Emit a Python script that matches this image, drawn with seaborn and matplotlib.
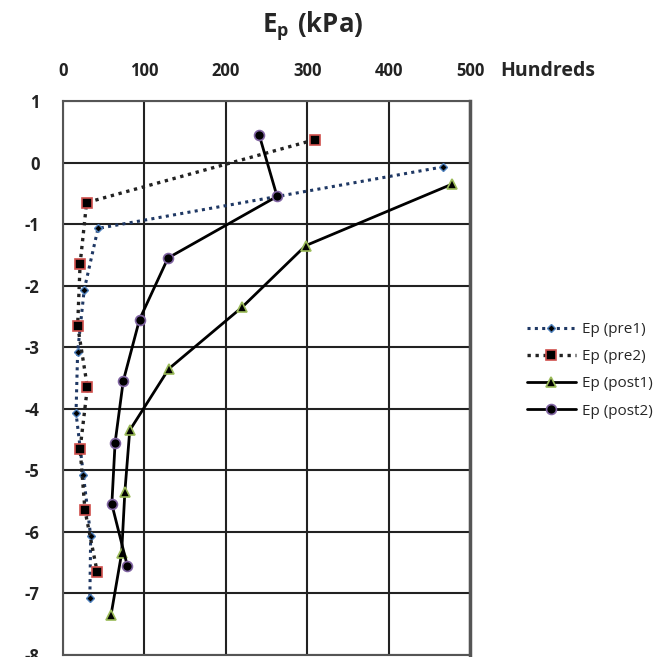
import matplotlib
matplotlib.use('Agg')
import matplotlib.pyplot as plt
import seaborn as sns
import pandas as pd

# depth (m) and Ep (kPa, hundreds) for each test
depth_pre1 = [-0.07, -1.07, -2.07, -3.07, -4.07, -5.07, -6.07, -7.07]
ep_pre1 = [467, 43, 26, 18, 16, 25, 34, 33]

depth_pre2 = [0.37, -0.65, -1.65, -2.65, -3.65, -4.65, -5.65, -6.65]
ep_pre2 = [309, 29, 21, 18, 30, 21, 27, 42]

depth_post1 = [-0.35, -1.35, -2.35, -3.35, -4.35, -5.35, -6.35, -7.35]
ep_post1 = [478, 298, 220, 130, 82, 76, 72, 59]

depth_post2 = [0.45, -0.55, -1.55, -2.55, -3.55, -4.55, -5.55, -6.55]
ep_post2 = [241, 263, 129, 94, 74, 64, 60, 79]

x_ticks = [0, 100, 200, 300, 400, 500]
y_ticks = [1, 0, -1, -2, -3, -4, -5, -6, -7, -8]

sns.set_style('white')
plt.rcParams['font.family'] = ['Open Sans', 'DejaVu Sans']
plt.rcParams['axes.unicode_minus'] = False
plt.rcParams['mathtext.fontset'] = 'custom'
plt.rcParams['mathtext.rm'] = 'Open Sans:bold'

fig = plt.figure(figsize=(6.59, 6.57), dpi=100)
ax = fig.add_axes([63 / 659, 2 / 657, (470 - 63) / 659, (655 - 101) / 657])

dots = (0, (1, 1.4))
series = [
    ('Ep (pre1)', ep_pre1, depth_pre1, dict(color='#1f3864', linestyle=dots, linewidth=2.2,
                                             marker='D', markersize=6, markerfacecolor='black',
                                             markeredgecolor='#4f81bd', markeredgewidth=1)),
    ('Ep (pre2)', ep_pre2, depth_pre2, dict(color='#222222', linestyle=dots, linewidth=2.4,
                                             marker='s', markersize=10.5, markerfacecolor='black',
                                             markeredgecolor='#d0504d', markeredgewidth=1.2)),
    ('Ep (post1)', ep_post1, depth_post1, dict(color='black', linestyle='-', linewidth=2,
                                               marker='^', markersize=9, markerfacecolor='black',
                                               markeredgecolor='#9bbb59', markeredgewidth=1.2)),
    ('Ep (post2)', ep_post2, depth_post2, dict(color='black', linestyle='-', linewidth=2,
                                               marker='o', markersize=9.5, markerfacecolor='black',
                                               markeredgecolor='#8064a2', markeredgewidth=1.2)),
]

for name, xs, ys, style in series:
    df = pd.DataFrame({'Ep': xs, 'depth': ys})
    sns.lineplot(data=df, x='Ep', y='depth', sort=False, estimator=None,
                 ax=ax, label=name, **style)

ax.set_xlim(0, 500)
ax.set_ylim(-8, 1)
ax.set_xticks(x_ticks)
ax.set_yticks(y_ticks)
ax.xaxis.tick_top()
ax.tick_params(axis='x', length=0, pad=15, labelsize=12)
ax.tick_params(axis='y', length=0, pad=17, labelsize=12)
for lbl in ax.get_xticklabels() + ax.get_yticklabels():
    lbl.set_fontweight('bold')
    lbl.set_color('#222222')
ax.set_xlabel('')
ax.set_ylabel('')
ax.grid(True, color='#222222', linewidth=1.5)
for sp in ax.spines.values():
    sp.set_color('#555555')
    sp.set_linewidth(1.5)
ax.spines['right'].set_linewidth(2.5)

fig.text(313 / 659, 1 - 26 / 657, r'$\mathrm{E_{p}\ (kPa)}$', ha='center', va='center',
         fontsize=18.5)
fig.text(500 / 659, 1 - 71 / 657, 'Hundreds', ha='left', va='center',
         fontsize=14, fontweight='bold')

ax.get_legend().remove()
handles, labels = ax.get_legend_handles_labels()
for h in handles:
    h.set_markersize(h.get_markersize() * 0.75)
fig.legend(handles, labels, loc='upper left', bbox_to_anchor=(527 / 659, 1 - 322 / 657),
           frameon=False, fontsize=11, handlelength=3.2, labelspacing=0.8,
           handletextpad=0.4, borderpad=0, borderaxespad=0)

plt.savefig('out.png', dpi=100)
